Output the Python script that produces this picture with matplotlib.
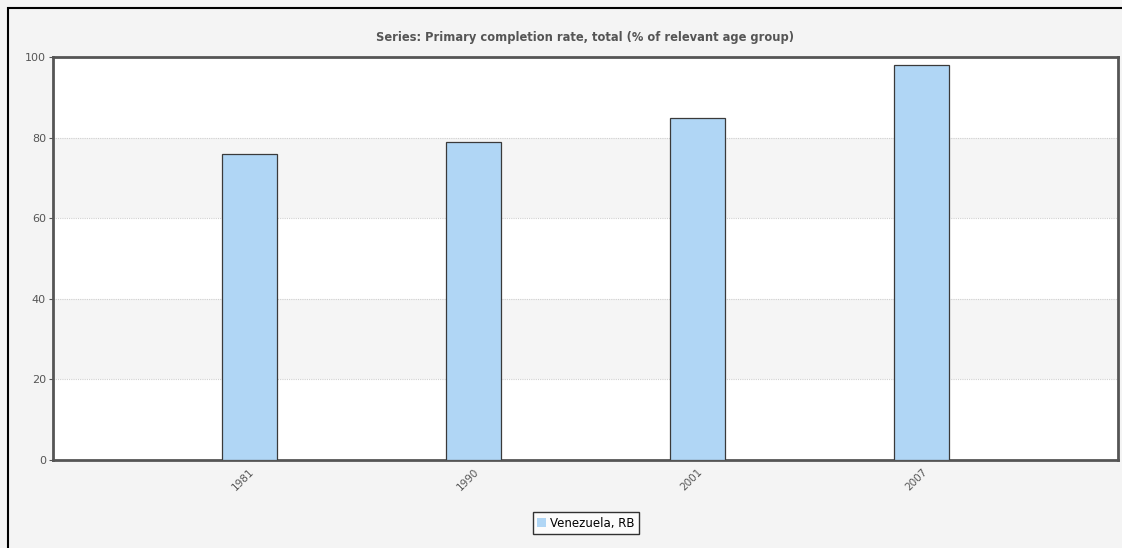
import numpy as np
import matplotlib.pyplot as plt
from matplotlib.patches import Rectangle

years = ['1981', '1990', '2001', '2007']
completion = [75.9, 78.9, 84.9, 98.0]
country = 'Venezuela, RB'
title = 'Series: Primary completion rate, total (% of relevant age group)'

W, H = 1122, 548
fig = plt.figure(figsize=(W / 100, H / 100), dpi=100)
fig.patch.set_facecolor('#f4f4f4')

# outer frame of the chart panel (runs off the right and bottom edges)
fig.add_artist(Rectangle((8 / W, -0.2), 1.2, 1.2 - 8 / H, transform=fig.transFigure,
                         fill=False, edgecolor='black', linewidth=1.5))

left, right, top, bottom = 53, 1118, 57, 460
ax = fig.add_axes([left / W, 1 - bottom / H, (right - left) / W, (bottom - top) / H])
ax.set_facecolor('white')

x = np.arange(len(years))
ax.set_xlim(-0.876, len(years) - 1 + 0.876)
ax.set_ylim(0, 100)

# alternating bands and dotted grid lines
for lo in range(0, 100, 20):
    if (lo // 20) % 2 == 1:
        ax.axhspan(lo, lo + 20, color='#f5f5f5', zorder=0, linewidth=0)
for y in range(20, 100, 20):
    ax.axhline(y, color='#d0d0d0', linestyle=(0, (1, 1)), linewidth=0.8, zorder=1)

ax.bar(x, completion, width=0.246, color='#b0d6f5', edgecolor='#3a3a3a',
       linewidth=0.9, zorder=3, label=country)

for s in ax.spines.values():
    s.set_color('#555555')
    s.set_linewidth(2)

ax.set_yticks(range(0, 101, 20))
ax.tick_params(axis='y', length=3, color='#555555', labelsize=8, labelcolor='#555555', pad=2)
ax.set_xticks(x)
ax.set_xticklabels(years, rotation=45, ha='right', rotation_mode='anchor')
ax.tick_params(axis='x', length=0, labelsize=7.5, labelcolor='#555555', pad=5)

fig.text(585 / W, 1 - 38 / H, title, ha='center', va='center', fontsize=8.3,
         fontweight='bold', color='#555555', family='DejaVu Sans')

leg = fig.legend(loc='center', bbox_to_anchor=(586 / W, 1 - 523 / H), fontsize=8.5,
                 frameon=True, fancybox=False, handlelength=0.7, handleheight=0.7,
                 handletextpad=0.4, borderpad=0.4)
leg.get_frame().set_edgecolor('black')
leg.get_frame().set_linewidth(1)
for h in leg.legend_handles:
    h.set_edgecolor('none')

fig.savefig('out.png', dpi=100, facecolor=fig.get_facecolor())
